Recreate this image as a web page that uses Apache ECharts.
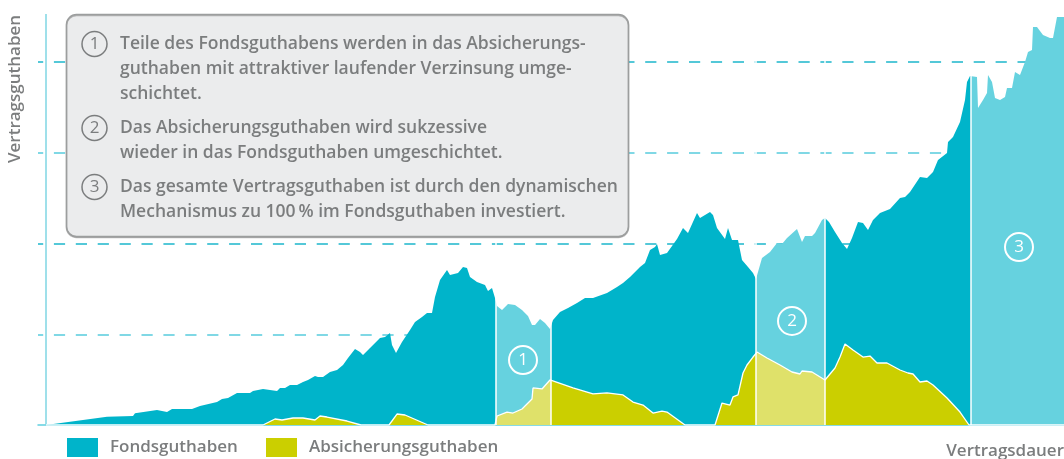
<!DOCTYPE html>
<html><head><meta charset="utf-8">
<script src="https://cdn.jsdelivr.net/npm/echarts@6/dist/echarts.min.js"></script>
<style>html,body{margin:0;padding:0;background:#fff}#c{width:1064px;height:459px}</style>
</head><body><div id="c"></div>
<script>
// Zeitachse (Monate) und Werte
const tGesamt = [0, 15.25, 21.75, 22.25, 27.75, 30.25, 31.5, 36.5, 38.5, 42.75,
  44, 45.5, 47.75, 51, 51.75, 54.25, 57.75, 58.5, 59.75, 61,
  62.75, 64.25, 65.5, 67.25, 68, 69.25, 71, 72.75, 74.25, 75.5,
  77.25, 78.5, 79.25, 81, 83.5, 84.75, 86, 86.5, 87.5, 89,
  91, 92.25, 94, 95.25, 96.5, 97.25, 98.5, 100.25, 101, 103,
  104.25, 105.25, 106, 107.75, 109.75, 110.5, 111.5, 112.25, 112.75, 114,
  115.5, 117.25, 119, 120.5, 121.5, 122.25, 123.5, 124.75, 126, 126.75,
  128.5, 130.5, 132.75, 134.75, 136.75, 140.25, 142.75, 144.25, 146, 148.5,
  149.75, 151, 152.25, 152.75, 153.5, 155.25, 157.75, 159.25, 160.5, 162.75,
  163.5, 166, 166.75, 167.75, 169.75, 170.5, 171.5, 173, 174, 175.5,
  176.75, 177.5, 179, 181, 182.75, 184, 185.25, 187.75, 189, 189.75,
  191.5, 192.25, 194, 194.75, 195.75, 197.25, 199, 200.25, 201.5, 203,
  204.25, 205.5, 206.75, 208.5, 211, 213.5, 214.75, 216, 218.5, 220.25,
  221.75, 223, 225.25, 225.5, 226.75, 228.5, 229.75, 230.25, 231, 232.75,
  233, 234.25, 235.25, 235.5, 236.5, 237.25, 238.5, 239.75, 240.25, 241.5,
  242.25, 243.5, 244, 244.75, 245.5, 246.5, 246.75, 247.75, 249.25, 251,
  251.75, 252.75, 254.5];
// Vertragsguthaben gesamt (Oberkante der Fläche)
const gesamt = [0, 0.9, 1.0, 1.3, 1.65, 1.43, 1.76, 1.76, 2.09, 2.53,
  2.87, 2.98, 3.53, 3.53, 3.75, 3.97, 3.75, 4.08, 4.08, 4.41,
  4.41, 4.74, 4.96, 5.4, 5.29, 5.29, 5.84, 6.06, 6.61, 7.38,
  8.37, 8.04, 7.71, 8.49, 9.59, 9.7, 10.14, 8.82, 7.93, 9.15,
  10.47, 11.35, 11.9, 12.34, 12.34, 14.1, 15.98, 17.08, 16.53, 16.75,
  17.41, 17.3, 16.31, 15.76, 15.43, 14.77, 15.1, 13.99, 13.11, 12.67,
  13.33, 13.22, 12.67, 12.01, 11.02, 11.02, 11.68, 11.24, 10.58, 11.57,
  12.45, 12.89, 13.44, 13.99, 13.99, 14.55, 15.21, 15.65, 16.31, 17.41,
  17.85, 19.28, 19.61, 19.94, 18.73, 18.95, 20.5, 21.71, 21.16, 23.36,
  22.81, 23.47, 23.14, 21.71, 20.5, 21.71, 20.39, 20.39, 18.18, 17.41,
  16.75, 16.09, 18.4, 19.06, 20.06, 19.94, 20.61, 21.6, 20.17, 20.83,
  20.83, 21.16, 22.59, 22.81, 22.37, 21.27, 20.06, 19.39, 20.61, 22.37,
  22.26, 21.49, 22.59, 23.36, 23.8, 25.01, 25.12, 25.67, 27.33, 27.22,
  27.88, 29.2, 29.97, 31.18, 31.74, 33.39, 35.81, 37.8, 38.46, 38.35,
  34.93, 35.81, 36.58, 38.57, 37.8, 36.03, 35.81, 36.14, 37.13, 37.13,
  38.9, 38.57, 38.35, 40.0, 41.1, 41.32, 43.86, 43.86, 42.98, 42.64,
  42.64, 44.96, 44.96];
const tAbsich = [0, 54.25, 57.25, 59, 61.75, 64.25, 67.25, 68.5, 70.25, 75.25,
  78.75, 85.75, 87.75, 89.75, 95.5, 112.25, 112.75, 115.25, 116.75, 119,
  121.5, 121.75, 124, 126, 126.5, 131.75, 136.75, 140.25, 144.25, 146.75,
  149.25, 151.75, 154, 155.25, 159.75, 167.25, 169, 171, 171.75, 173,
  174.25, 175.25, 176.75, 177.75, 180.25, 183.5, 186.5, 188.5, 189, 191.5,
  194.75, 197.25, 198.5, 199.75, 201.75, 204.25, 206, 207.75, 210.25, 213.5,
  215.5, 216.75, 218.5, 220.25, 221.75, 225.25, 228.5, 230.75, 254.5];
const absicherung = [0, 0, 0.66, 0.55, 0.77, 0.77, 0.55, 0.99, 0.88, 0.44,
  0, 0, 1.21, 1.1, 0, 0, 0.99, 1.43, 1.32, 1.76,
  2.87, 4.08, 3.97, 4.96, 5.07, 4.08, 3.42, 3.53, 3.31, 2.53,
  2.2, 1.32, 1.54, 1.43, 0, 0, 2.42, 2.2, 3.09, 3.31,
  5.73, 6.61, 7.49, 8.04, 7.38, 6.61, 5.84, 5.62, 5.95, 5.84,
  4.96, 6.28, 7.49, 8.93, 8.26, 7.49, 7.6, 6.83, 6.83, 6.06,
  5.73, 5.62, 4.74, 4.85, 4.41, 2.98, 1.43, 0, 0];
// Grenzen der Umschichtungsphasen (Monate)
const phaseBounds = [112.5, 126.25, 177.5, 194.75, 231.25];
// Phasen-Markierungen: Nummer, Monat, Wert
const phaseLabels = ['1', '2', '3'];
const phaseT = [119.25, 186.5, 243.25];
const phaseV = [7.16, 11.46, 19.61];
const gridValues = [10, 20, 30, 40];
const seriesNames = ['Fondsguthaben', 'Absicherungsguthaben'];
const yAxisName = 'Vertragsguthaben';
const xAxisName = 'Vertragsdauer';
const notes = [
  ['Teile des Fondsguthabens werden in das Absicherungs-', 'guthaben mit attraktiver laufender Verzinsung umge-', 'schichtet.'],
  ['Das Absicherungsguthaben wird sukzessive', 'wieder in das Fondsguthaben umgeschichtet.'],
  ['Das gesamte Vertragsguthaben ist durch den dynamischen', 'Mechanismus zu 100\u2009% im Fondsguthaben investiert.']
];

const TEAL = '#00b4ca', TEAL_L = '#66d2df', YEL = '#cbcf00', YEL_L = '#dfe16a';
const GRAY = '#7b7d7e';
const FONT = '"Open Sans", "Noto Sans", sans-serif';

function pieces(dark, light) {
  const p = [{ lt: phaseBounds[0], color: dark }];
  for (let i = 0; i < phaseBounds.length; i++) {
    const pc = { gte: phaseBounds[i], color: i % 2 === 0 ? light : dark };
    if (i + 1 < phaseBounds.length) pc.lt = phaseBounds[i + 1];
    p.push(pc);
  }
  return p;
}

const chart = echarts.init(document.getElementById('c'), null, { renderer: 'canvas' });

const graphic = [];
graphic.push({ type: 'rect', z: 100, shape: { x: 66.5, y: 14.5, width: 562, height: 222, r: 10 },
  style: { fill: '#ebeced', stroke: '#9c9e9e', lineWidth: 1.5, shadowColor: 'rgba(0,0,0,0.25)', shadowOffsetY: 1, shadowBlur: 0 } });
const blockY = [44, 128, 187];
const lineH = 25;
notes.forEach((lines, bi) => {
  const cy = blockY[bi];
  graphic.push({ type: 'circle', z: 101, shape: { cx: 94.5, cy: cy, r: 12.5 },
    style: { fill: 'none', stroke: GRAY, lineWidth: 1.5 } });
  graphic.push({ type: 'text', z: 101, x: 94.5, y: cy + 0.5,
    style: { text: String(bi + 1), fill: GRAY, font: '500 17px ' + FONT, align: 'center', verticalAlign: 'middle' } });
  lines.forEach((ln, li) => {
    graphic.push({ type: 'text', z: 101, x: 120, y: cy + li * lineH,
      style: { text: ln, fill: GRAY, font: '600 17.5px ' + FONT, align: 'left', verticalAlign: 'middle' } });
  });
});
graphic.push({ type: 'text', z: 101, x: 15, y: 89, rotation: Math.PI / 2,
  style: { text: yAxisName, fill: GRAY, font: '600 17px ' + FONT, align: 'center', verticalAlign: 'middle' } });
graphic.push({ type: 'text', z: 101, x: 1064, y: 451,
  style: { text: xAxisName, fill: GRAY, font: '600 17px ' + FONT, align: 'right', verticalAlign: 'middle' } });

const legendCommon = {
  top: 438, padding: 0, itemWidth: 31, itemHeight: 19, icon: 'rect', selectedMode: false,
  textStyle: { color: GRAY, fontFamily: FONT, fontWeight: 600, fontSize: 17, padding: [3, 0, 0, 7] }
};

chart.setOption({
  animation: false,
  backgroundColor: '#fff',
  grid: { left: 38, right: 0, top: 14, bottom: 34, containLabel: false },
  xAxis: {
    type: 'value', min: -2, max: 254.5, offset: 2,
    axisLine: { show: true, lineStyle: { color: '#5fcfe0', width: 1.5 } },
    axisTick: { show: false }, axisLabel: { show: false }, splitLine: { show: false }
  },
  yAxis: { type: 'value', min: 0, max: 45.29, show: false },
  legend: [
    Object.assign({ left: 67, data: [{ name: seriesNames[0], itemStyle: { color: TEAL } }] }, legendCommon),
    Object.assign({ left: 266, data: [{ name: seriesNames[1], itemStyle: { color: YEL } }] }, legendCommon)
  ],
  visualMap: [
    { type: 'piecewise', show: false, dimension: 0, seriesIndex: 0, pieces: pieces(TEAL, TEAL_L) },
    { type: 'piecewise', show: false, dimension: 0, seriesIndex: 1, pieces: pieces(YEL, YEL_L) }
  ],
  series: [
    {
      name: seriesNames[0], type: 'line', z: 3, symbol: 'none', showSymbol: false,
      data: tGesamt.map((t, i) => [t, gesamt[i]]),
      itemStyle: { color: TEAL },
      lineStyle: { width: 0, opacity: 0 },
      areaStyle: { opacity: 1 },
      emphasis: { disabled: true }, silent: true,
      markLine: {
        z: 1, silent: true, symbol: 'none', label: { show: false },
        emphasis: { disabled: true },
        data: gridValues.map((v, i) => ({
          yAxis: v,
          lineStyle: i % 2 === 0
            ? { color: '#80d8e5', width: 2, type: [11.2, 10.7], dashOffset: 6 }
            : { color: '#1cb6cc', width: 1.5, type: [11.2, 10.7], dashOffset: 6 }
        })).concat([{ xAxis: 0, lineStyle: { color: '#7fd6e3', width: 1.5, type: 'solid' } }])
      }
    },
    {
      name: seriesNames[1], type: 'line', z: 3, symbol: 'none', showSymbol: false,
      data: tAbsich.map((t, i) => [t, absicherung[i]]),
      itemStyle: { color: YEL },
      lineStyle: { color: '#ffffff', width: 1.3 },
      areaStyle: { opacity: 1 },
      emphasis: { disabled: true }, silent: true,
      markLine: {
        z: 5, silent: true, symbol: 'none', label: { show: false },
        emphasis: { disabled: true },
        data: phaseBounds.map(b => ({ xAxis: b, lineStyle: { color: '#ffffff', width: 1.5, type: 'solid' } }))
      },
      markPoint: {
        z: 6, silent: true, symbol: 'circle', symbolSize: 28,
        itemStyle: { color: 'rgba(0,0,0,0)', borderColor: '#ffffff', borderWidth: 2 },
        label: { show: true, position: 'inside', color: '#ffffff', fontFamily: FONT, fontSize: 17, fontWeight: 400,
          formatter: p => p.name },
        data: phaseLabels.map((l, i) => ({ name: l, coord: [phaseT[i], phaseV[i]] }))
      }
    }
  ],
  graphic: graphic
});
</script>
</body></html>
